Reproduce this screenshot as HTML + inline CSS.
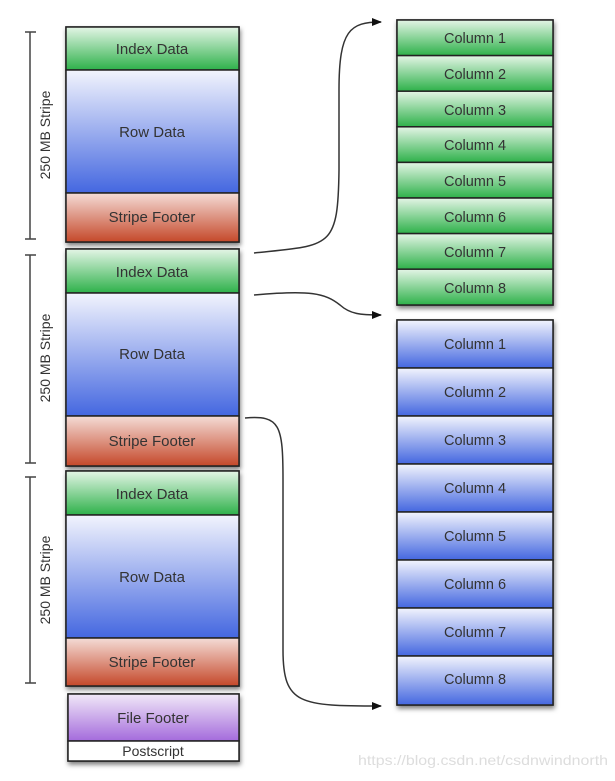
<!DOCTYPE html>
<html><head><meta charset="utf-8"><style>
body{margin:0;background:#fff;width:615px;height:776px;overflow:hidden;font-family:"Liberation Sans",sans-serif}
text{font-family:"Liberation Sans",sans-serif;fill:#333}
</style></head><body>
<svg width="615" height="776" viewBox="0 0 615 776" xmlns="http://www.w3.org/2000/svg">
<defs>
<linearGradient id="g" x1="0" y1="0" x2="0" y2="1"><stop offset="0" stop-color="#e4f5e6"/><stop offset="1" stop-color="#2eb14a"/></linearGradient>
<linearGradient id="b" x1="0" y1="0" x2="0" y2="1"><stop offset="0" stop-color="#f2f4fd"/><stop offset="1" stop-color="#4467e0"/></linearGradient>
<linearGradient id="r" x1="0" y1="0" x2="0" y2="1"><stop offset="0" stop-color="#f4dcd6"/><stop offset="1" stop-color="#c5482a"/></linearGradient>
<linearGradient id="p" x1="0" y1="0" x2="0" y2="1"><stop offset="0" stop-color="#f1e8f8"/><stop offset="1" stop-color="#a46bdc"/></linearGradient>
<filter id="s" x="-10%" y="-10%" width="120%" height="120%"><feDropShadow dx="1" dy="3" stdDeviation="2.5" flood-color="#000" flood-opacity="0.5"/></filter>
<marker id="a" markerWidth="10" markerHeight="8" refX="9" refY="4" orient="auto" markerUnits="userSpaceOnUse"><path d="M0,0 L10,4 L0,8 Z" fill="#111"/></marker>
</defs>
<g stroke="#222" stroke-width="1.5">
<g filter="url(#s)">
<rect x="66" y="27" width="173" height="215" fill="#fff"/>
<rect x="66" y="249" width="173" height="217" fill="#fff"/>
<rect x="66" y="471" width="173" height="215" fill="#fff"/>
<rect x="68" y="694" width="171" height="67" fill="#fff"/>
<rect x="397" y="20" width="156" height="285" fill="#fff"/>
<rect x="397" y="320" width="156" height="385" fill="#fff"/>
</g>
<rect x="66" y="27" width="173" height="43" fill="url(#g)"/>
<rect x="66" y="70" width="173" height="123" fill="url(#b)"/>
<rect x="66" y="193" width="173" height="49" fill="url(#r)"/>
<rect x="66" y="249" width="173" height="44" fill="url(#g)"/>
<rect x="66" y="293" width="173" height="123" fill="url(#b)"/>
<rect x="66" y="416" width="173" height="50" fill="url(#r)"/>
<rect x="66" y="471" width="173" height="44" fill="url(#g)"/>
<rect x="66" y="515" width="173" height="123" fill="url(#b)"/>
<rect x="66" y="638" width="173" height="48" fill="url(#r)"/>
<rect x="68" y="694" width="171" height="47" fill="url(#p)"/>
<rect x="68" y="741" width="171" height="20" fill="#fff"/>
</g>
<g stroke="#222" stroke-width="1.5">
<rect x="397" y="20" width="156" height="35.6" fill="url(#g)"/>
<rect x="397" y="55.6" width="156" height="35.6" fill="url(#g)"/>
<rect x="397" y="91.2" width="156" height="35.6" fill="url(#g)"/>
<rect x="397" y="126.8" width="156" height="35.6" fill="url(#g)"/>
<rect x="397" y="162.4" width="156" height="35.6" fill="url(#g)"/>
<rect x="397" y="198" width="156" height="35.6" fill="url(#g)"/>
<rect x="397" y="233.6" width="156" height="35.6" fill="url(#g)"/>
<rect x="397" y="269.2" width="156" height="35.8" fill="url(#g)"/>
<rect x="397" y="320" width="156" height="48" fill="url(#b)"/>
<rect x="397" y="368" width="156" height="48" fill="url(#b)"/>
<rect x="397" y="416" width="156" height="48" fill="url(#b)"/>
<rect x="397" y="464" width="156" height="48" fill="url(#b)"/>
<rect x="397" y="512" width="156" height="48" fill="url(#b)"/>
<rect x="397" y="560" width="156" height="48" fill="url(#b)"/>
<rect x="397" y="608" width="156" height="48" fill="url(#b)"/>
<rect x="397" y="656" width="156" height="49" fill="url(#b)"/>
</g>
<g font-size="15" text-anchor="middle">
<text x="152" y="54">Index Data</text><text x="152" y="137">Row Data</text><text x="152" y="222">Stripe Footer</text>
<text x="152" y="277">Index Data</text><text x="152" y="359">Row Data</text><text x="152" y="446">Stripe Footer</text>
<text x="152" y="499">Index Data</text><text x="152" y="582">Row Data</text><text x="152" y="667">Stripe Footer</text>
<text x="153" y="723">File Footer</text><text x="153" y="756" font-size="14">Postscript</text>
</g>
<g font-size="14.5" text-anchor="middle">
<text x="475" y="43">Column 1</text><text x="475" y="79">Column 2</text><text x="475" y="115">Column 3</text><text x="475" y="150">Column 4</text>
<text x="475" y="186">Column 5</text><text x="475" y="222">Column 6</text><text x="475" y="257">Column 7</text><text x="475" y="293">Column 8</text>
<text x="475" y="349">Column 1</text><text x="475" y="397">Column 2</text><text x="475" y="445">Column 3</text><text x="475" y="493">Column 4</text>
<text x="475" y="541">Column 5</text><text x="475" y="589">Column 6</text><text x="475" y="637">Column 7</text><text x="475" y="684">Column 8</text>
</g>
<g stroke="#444" stroke-width="1.5" fill="none">
<path d="M30,32V239M25,32H36M25,239H36"/>
<path d="M30,255V463M25,255H36M25,463H36"/>
<path d="M30,477V683M25,477H36M25,683H36"/>
</g>
<g font-size="14" text-anchor="middle">
<text transform="translate(50,135) rotate(-90)">250 MB Stripe</text>
<text transform="translate(50,358) rotate(-90)">250 MB Stripe</text>
<text transform="translate(50,580) rotate(-90)">250 MB Stripe</text>
</g>
<g stroke="#333" stroke-width="1.5" fill="none">
<path d="M254,253 C330,245 338,250 339,170 L339,90 C339,30 350,22 381,22" marker-end="url(#a)"/>
<path d="M254,295 C310,290 325,293 340,305 C350,314 360,315 381,315" marker-end="url(#a)"/>
<path d="M245,418 C280,415 283,425 283,480 L283,650 C283,705 300,706 381,706" marker-end="url(#a)"/>
</g>
<text x="358" y="765" font-size="14" textLength="250" lengthAdjust="spacingAndGlyphs" style="fill:#ddd">https://blog.csdn.net/csdnwindnorth</text>
</svg>
</body></html>
